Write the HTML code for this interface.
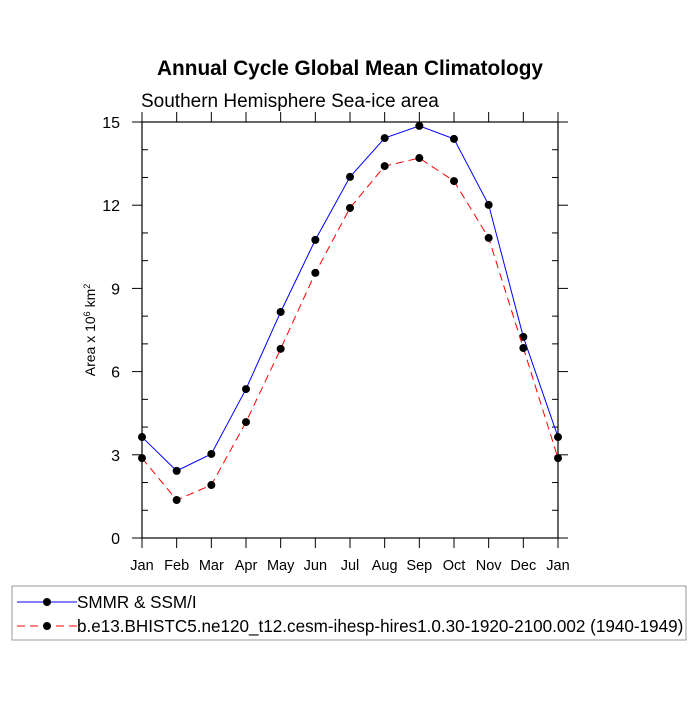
<!DOCTYPE html>
<html><head><meta charset="utf-8"><style>
body{margin:0;background:#fff;font-family:"Liberation Sans",sans-serif}
svg text{font-family:"Liberation Sans",sans-serif}
</style></head><body>
<svg width="700" height="700" id="c">
<text x="350" y="75" text-anchor="middle" font-size="20.8" font-weight="bold">Annual Cycle Global Mean Climatology</text>
<text x="141" y="107" font-size="19">Southern Hemisphere Sea-ice area</text>
<text transform="translate(95,330) rotate(-90)" text-anchor="middle" font-size="14">Area x 10<tspan dy="-5" font-size="9">6</tspan><tspan dy="5"> km</tspan><tspan dy="-5" font-size="9">2</tspan></text>
<g id="axes"></g><g id="series"></g>
<rect x="12" y="586" width="674" height="54" fill="none" stroke="#999"/>
<g><line x1="17" y1="602" x2="77" y2="602" stroke="#00f"/><circle cx="47" cy="602" r="4"/><text x="77" y="608" font-size="17.1">SMMR &amp; SSM/I</text></g>
<g><line x1="17" y1="626" x2="77" y2="626" stroke="#f00" stroke-dasharray="8,5"/><circle cx="47" cy="626" r="4"/><text x="77" y="632" font-size="17.1">b.e13.BHISTC5.ne120_t12.cesm-ihesp-hires1.0.30-1920-2100.002 (1940-1949)</text></g>
</svg>
<script>
const months=["Jan","Feb","Mar","Apr","May","Jun","Jul","Aug","Sep","Oct","Nov","Dec","Jan"];
const obs=[3.64,2.42,3.03,5.37,8.15,10.75,13.02,14.42,14.86,14.39,12.01,7.25,3.64];
const model=[2.88,1.37,1.91,4.18,6.82,9.56,11.9,13.41,13.7,12.87,10.82,6.85,2.88];
const yTicks=[0,3,6,9,12,15];
const NS="http://www.w3.org/2000/svg";
const L=142,R=558,T=122,B=538;
const xs=i=>L+i*(R-L)/12, ys=v=>B-v*(B-T)/15;
function mk(t,a,p){const e=document.createElementNS(NS,t);for(const k in a)e.setAttribute(k,a[k]);p.appendChild(e);return e;}
const ax=document.getElementById('axes');
const frame=mk('rect',{x:L,y:T,width:R-L,height:B-T,fill:'none',stroke:'#000','stroke-width':1.2},ax);


months.forEach((m,i)=>{const x=xs(i);
 mk('line',{x1:x,y1:B,x2:x,y2:B+10,stroke:'#000'},ax);
 mk('line',{x1:x,y1:T,x2:x,y2:T-10,stroke:'#000'},ax);
 const t=mk('text',{x:x,y:B+32,'text-anchor':'middle','font-size':14.5},ax);t.textContent=m;
 
 });
yTicks.forEach(v=>{const y=ys(v);
 mk('line',{x1:L-10,y1:y,x2:L,y2:y,stroke:'#000'},ax);
 mk('line',{x1:R,y1:y,x2:R+10,y2:y,stroke:'#000'},ax);
 const t=mk('text',{x:L-22,y:y+6,'text-anchor':'end','font-size':16},ax);t.textContent=v;
 
 });
for(let v=1;v<15;v++){if(v%3==0)continue;const y=ys(v);
 mk('line',{x1:L,y1:y,x2:L+6,y2:y,stroke:'#000'},ax);
 mk('line',{x1:R-6,y1:y,x2:R,y2:y,stroke:'#000'},ax);}
const sg=document.getElementById('series');
function draw(vals,color,dash,name){
 const g=mk('g',{},sg);
 
 
 const a={points:vals.map((v,i)=>xs(i)+','+ys(v)).join(' '),fill:'none',stroke:color};
 if(dash)a['stroke-dasharray']=dash;
 mk('polyline',a,g);
 vals.forEach((v,i)=>{const c=mk('circle',{cx:xs(i),cy:ys(v),r:4},g);
  
  });}
draw(obs,'#00f',null,'series-smmr');
draw(model,'#f00','8,5','series-model');
</script>
</body></html>
